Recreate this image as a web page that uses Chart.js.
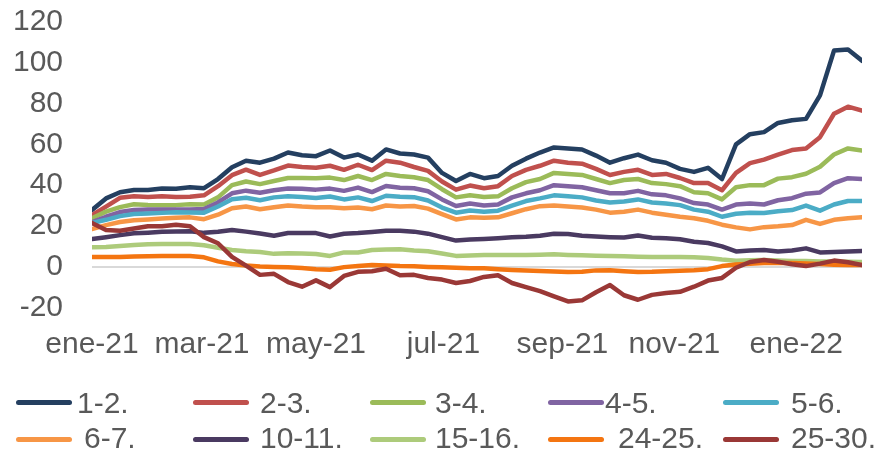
<!DOCTYPE html>
<html><head><meta charset="utf-8">
<script src="https://cdn.jsdelivr.net/npm/chart.js@4.4.1/dist/chart.umd.min.js"></script>
<style>
html,body{margin:0;padding:0;background:#fff;}
#wrap{position:relative;width:883px;height:449px;overflow:hidden;font-family:"Liberation Sans",Arial,sans-serif;}
#c{position:absolute;left:0;top:0;}
#legend .sw{position:absolute;height:5px;width:56px;border-radius:3px;}
#legend .tx{position:absolute;font-size:30px;line-height:30px;color:#595959;white-space:pre;}
</style></head>
<body><div id="wrap"><canvas id="c" width="883" height="449"></canvas><div id="legend"></div></div>
<script>
// ---- data (weekly readings, bp) ----
const seriesNames = ['1-2.','2-3.','3-4.','4-5.','5-6.','6-7.','10-11.','15-16.','24-25.','25-30.'];
const tickLabels = ['ene-21','mar-21','may-21','jul-21','sep-21','nov-21','ene-22'];
const tickAt = [0, 7.86, 16, 25.1, 33.6, 41.6, 50.3];
const yTicks = [-20, 0, 20, 40, 60, 80, 100, 120];

const s1_2 = [27.8,33.5,36.5,37.6,37.6,38.3,38.2,39,38.5,43,48.8,52,51,53,56,54.7,54.2,57,53.5,55,52,57.5,55.5,55,53.5,46,42,45.5,43.4,44.5,49.5,53,56,58.5,58,57.5,54.5,51,53.2,55,52.2,51,48,46.5,48.5,43,60,65,66,70.5,71.8,72.5,84,106,106.5,101];
const s2_3 = [25.3,29.5,33.8,34.5,34.2,34.5,34.2,34.3,35,39.5,44.9,47.6,45,47.2,49.6,48.9,48.5,49.5,47.5,50,47.4,52,51,48.9,47,41.8,37.8,39.8,38.5,39.5,44.5,47.5,49.5,52,51,50.5,48,45,46.5,47.5,45,45.5,43.5,41,41,37.5,46,50.8,52.5,55,57.2,58,63.5,75,78.5,76.5];
const s3_4 = [23.8,27,29.2,30.6,30.3,30.2,30.2,30.6,30.5,34,40,41.8,40.5,42,43.5,43.5,43.4,43.7,42.5,44.5,42.5,45.5,44.5,43.9,42.5,38,34,35,34.2,34.5,38.5,41.5,43,46,45.5,45,43,41,42.5,43,41,40.5,39.5,36.5,36,33,39,40,40,43.2,43.9,45.6,49,55,58,57];
const s4_5 = [21.9,24.5,26.8,27.8,28,28,28,28,28.3,31.5,36,37.3,36.3,37.5,38.3,38.2,37.8,38.3,37.2,38.8,36.6,39.6,38.7,38.5,37,33,29.8,31,30,30.5,34,36,37.5,40,39.5,39,37.5,36,36,37.2,35.5,35,33.5,31.2,30.5,28,30.5,31,30.5,32.6,33.6,35.8,36.4,41,43.4,43];
const s5_6 = [21.4,23,24.8,25.8,26.1,26.4,26.7,26.6,26.5,29.5,33.1,33.8,32.6,34,34.5,34.2,33.7,34.4,33,34,32.2,34.8,34.3,34.1,32.5,29,26.5,27.6,27,27.5,30,32.2,33.5,35,34.5,34,32.5,31.5,32,33,31.5,31,30.2,28,27,24.5,26,26.5,26.3,27.2,27.8,30,27.5,30.5,32.2,32.2];
const s6_7 = [18.5,20.4,21.9,22.8,23.2,23.6,24,24.2,23.3,25.5,28.7,29.5,28.2,29.2,30,29.5,29.2,29.2,28.7,29,28.2,30,29.5,29.8,28.5,25.8,23.2,24.2,24,24.2,26.2,28.2,29.7,30,29.5,29,28,26.5,27,28,26.5,25.5,24.5,23.8,22.5,20.6,19.3,18.3,19.4,19.8,20.4,23,21,23,23.8,24.3];
const s10_11 = [13.6,14.5,15.5,16.4,16.7,17.1,17.3,17.4,16.6,17.1,18,17.2,16.3,15.2,16.5,16.5,16.5,14.8,16.2,16.5,17,17.6,17.6,17.2,16.2,14.5,12.8,13.3,13.6,14,14.4,14.7,15.2,16.2,16,15.2,14.8,14.5,14.3,15.3,14.2,14,13.5,12.2,11.6,10,7.5,8,8.2,7.5,8,9,7,7.2,7.5,7.7];
const s15_16 = [9.6,9.7,10.1,10.6,11,11.1,11.1,11.1,10.5,9.3,8.2,7.6,7.2,6.3,6.6,6.5,6.2,5.3,7,7,8.2,8.4,8.6,8,7.6,6.5,5.3,5.5,5.7,5.7,5.7,5.7,5.9,6.1,5.8,5.6,5.4,5.2,5.1,4.9,4.8,4.8,4.8,4.6,4.3,3.5,2.9,3.2,3.3,3.1,2.8,2.8,2.6,2.5,2.4,2.3];
const s24_25 = [4.8,4.8,4.8,5,5.1,5.2,5.2,5.2,4.6,2.6,1.3,0.6,0.1,-0.1,-0.3,-0.6,-1.2,-1.5,-0.2,0.3,0.8,0.6,0.3,0.2,-0.1,-0.3,-0.5,-0.7,-0.8,-1.2,-1.6,-1.9,-2.1,-2.4,-2.6,-2.5,-1.8,-1.7,-2.2,-2.6,-2.5,-2.2,-2,-1.7,-1.2,0.3,1.1,1.5,1.8,1.8,1.8,1.6,1.3,1,0.9,0.8];
const s25_30 = [21.4,18,17.6,18.7,19.8,19.8,20.6,19.8,14.5,11.5,4.8,0.5,-4,-3.5,-7.5,-9.8,-6.7,-10,-4.5,-2.5,-2.2,-1,-4.2,-4,-5.5,-6.3,-8,-7,-5,-4.2,-8,-10,-12,-14.5,-17,-16.5,-12.5,-9,-14,-16.2,-13.8,-12.9,-12.3,-9.8,-6.8,-5.5,-0.5,2.3,3.3,2.4,1.2,0.3,1.5,3,2.2,0.8];

const allSeries = [s1_2,s2_3,s3_4,s4_5,s5_6,s6_7,s10_11,s15_16,s24_25,s25_30];

// ---- styles ----
const colors = ['#243F60','#C0504D','#9BBB59','#8064A2','#4BACC6','#F79646','#4A3A61','#ADCB7B','#F47511','#9A3836'];
const legendColX = [16,193,370,548,723];
const legendTextX = [77,260,435,605,791,84,260,435,618,791];
const legendSwY = [400,437];
const legendTxY = [388,423];
const FONT = '"Liberation Sans", Arial, sans-serif';
const GREY = '#595959';
const CLEAR = 'rgba(0,0,0,0)';

const datasets = allSeries.map((vals, k) => ({
  label: seriesNames[k],
  data: vals.map((v, i) => ({x: i, y: v})),
  borderColor: colors[k],
  backgroundColor: colors[k],
  borderWidth: 4.5,
  pointRadius: 0,
  tension: 0,
  borderCapStyle: 'round',
  borderJoinStyle: 'round',
  order: allSeries.length - k
}));

const htmlLegend = {
  id: 'htmlLegend',
  afterUpdate(chart) {
    const box = document.getElementById('legend');
    box.innerHTML = '';
    chart.data.datasets.forEach((ds, i) => {
      const col = i % 5, row = Math.floor(i / 5);
      const sw = document.createElement('div');
      sw.className = 'sw';
      sw.style.left = legendColX[col] + 'px';
      sw.style.top = legendSwY[row] + 'px';
      sw.style.background = ds.borderColor;
      const tx = document.createElement('div');
      tx.className = 'tx';
      tx.style.left = legendTextX[i] + 'px';
      tx.style.top = legendTxY[row] + 'px';
      tx.textContent = ds.label;
      box.appendChild(sw); box.appendChild(tx);
    });
  }
};

new Chart(document.getElementById('c'), {
  type: 'line',
  data: { datasets },
  plugins: [htmlLegend],
  options: {
    responsive: false,
    animation: false,
    devicePixelRatio: 1,
    layout: { padding: { left: 0, right: 21, top: 22, bottom: 0 } },
    plugins: { legend: { display: false }, tooltip: { enabled: false } },
    scales: {
      x: {
        type: 'linear',
        min: 0, max: allSeries[0].length - 1,
        grid: { display: false, drawTicks: false },
        border: { display: false },
        afterBuildTicks: (axis) => { axis.ticks = tickAt.map(v => ({ value: v })); },
        afterFit: (scale) => { scale.height = 141.5; },
        ticks: {
          autoSkip: false, maxRotation: 0, minRotation: 0, padding: 19,
          color: GREY, font: { family: FONT, size: 30 },
          callback: (v, i) => tickLabels[i] ?? ''
        }
      },
      y: {
        min: -20, max: 120,
        afterBuildTicks: (axis) => { axis.ticks = yTicks.map(v => ({ value: v })); },
        afterFit: (scale) => { scale.width = 92; },
        grid: {
          drawTicks: true,
          tickLength: 29,
          tickColor: CLEAR,
          color: (ctx) => (ctx.tick && ctx.tick.value === 0) ? '#D9D9D9' : CLEAR,
          lineWidth: 2
        },
        border: { display: false },
        ticks: { autoSkip: false, padding: 0, color: GREY, font: { family: FONT, size: 30 } }
      }
    }
  }
});
</script></body></html>
